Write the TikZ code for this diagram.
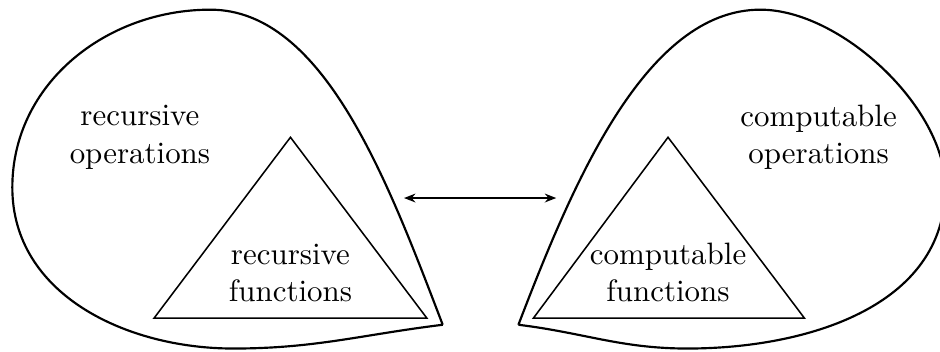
\documentclass[tikz,border=0pt]{standalone}
\usetikzlibrary{arrows.meta}
\tikzset{
  region/.style={line width=0.7pt,line join=miter},
  tri/.style={line width=0.5pt},
  lbl/.style={align=center,inner sep=0pt},
  arr/.style={{Stealth[length=1.3mm,width=1mm]}-{Stealth[length=1.3mm,width=1mm]},line width=0.6pt},
}
\begin{document}
\begin{tikzpicture}
\useasboundingbox (0,0) rectangle (10.68,3.99);
% left region: recursive
\coordinate (ltip) at (5.03,0.30);
\draw[region] (ltip) .. controls (4.42,1.89) and (3.69,3.88) .. (2.39,3.88)
  to[out=180,in=90] (0.14,1.86) to[out=-90,in=180] (2.65,0.03)
  to[out=0,in=187] (ltip);
\coordinate (la) at (3.30,2.43);
\coordinate (lb) at (1.75,0.375);
\coordinate (lc) at (4.85,0.375);
\draw[tri] (la)--(lb)--(lc)--cycle;
\node[lbl] (recop) at (1.59,2.43) {recursive\\operations};
\node[lbl] (recfn) at (3.30,0.89) {recursive\\functions};
% right region: computable
\coordinate (rtip) at (5.89,0.30);
\draw[region] (rtip) .. controls (6.50,1.89) and (7.33,3.88) .. (8.64,3.88)
  to[out=0,in=90,looseness=0.8] (10.74,1.86) to[out=-90,in=0] (7.81,0.03)
  to[out=180,in=-7] (rtip);
\coordinate (ra) at (7.59,2.43);
\coordinate (rb) at (6.06,0.375);
\coordinate (rc) at (9.14,0.375);
\draw[tri] (ra)--(rb)--(rc)--cycle;
\node[lbl] (compop) at (9.30,2.43) {computable\\operations};
\node[lbl] (compfn) at (7.59,0.89) {computable\\functions};
% correspondence
\coordinate (al) at (4.59,1.74);
\coordinate (ar) at (6.32,1.74);
\draw[arr] (al) -- (ar);
\end{tikzpicture}
\end{document}
